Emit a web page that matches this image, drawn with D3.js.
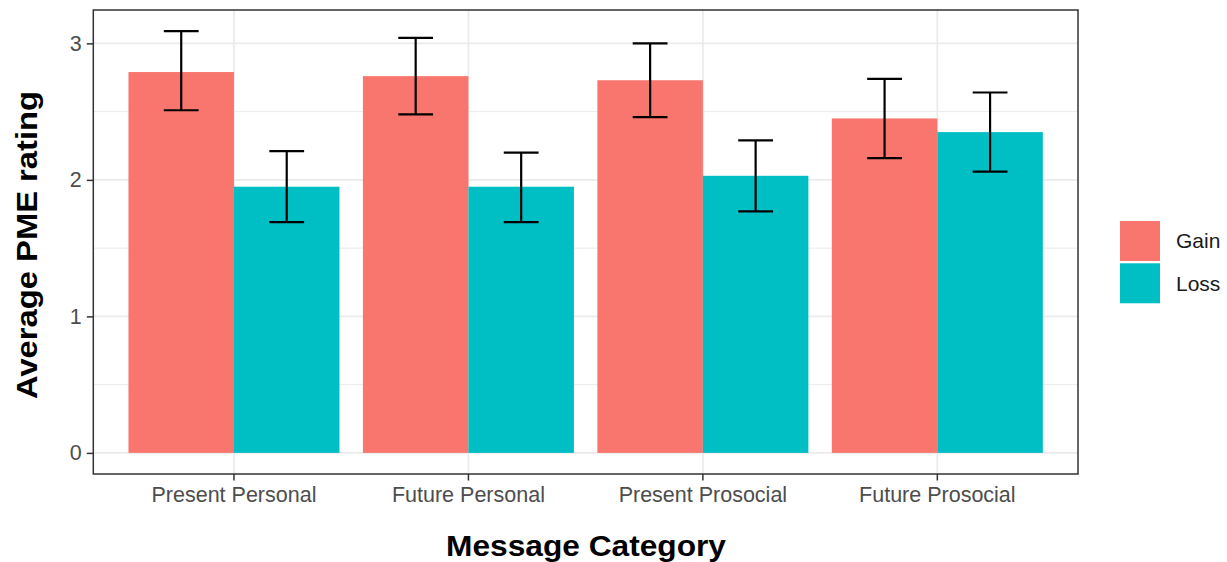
<!DOCTYPE html>
<html>
<head>
<meta charset="utf-8">
<script src="https://cdn.jsdelivr.net/npm/d3@7"></script>
<style>
  body { margin: 0; background: #fff; }
  text { font-family: "Liberation Sans", Arial, sans-serif; }
</style>
</head>
<body>
<div id="chart"></div>
<script>
// data
const categories = ["Present Personal", "Future Personal", "Present Prosocial", "Future Prosocial"];
const frames = ["Gain", "Loss"];
const gainMean = [2.79, 2.76, 2.73, 2.45];
const gainLower = [2.51, 2.48, 2.46, 2.16];
const gainUpper = [3.09, 3.04, 3.00, 2.74];
const lossMean = [1.95, 1.95, 2.03, 2.35];
const lossLower = [1.69, 1.69, 1.77, 2.06];
const lossUpper = [2.21, 2.20, 2.29, 2.64];
const yTicks = [0, 1, 2, 3];
const yMinor = [0.5, 1.5, 2.5];
const colors = ["#F8766D", "#00BFC4"];

const rows = [];
categories.forEach((c, i) => {
    rows.push({ cat: c, frame: "Gain", mean: gainMean[i], lo: gainLower[i], hi: gainUpper[i] });
    rows.push({ cat: c, frame: "Loss", mean: lossMean[i], lo: lossLower[i], hi: lossUpper[i] });
});

const width = 1227, height = 562;
const panel = { left: 93.3, right: 1078, top: 10, bottom: 474 };

const svg = d3.select("#chart")
    .append("svg")
    .attr("width", width)
    .attr("height", height);

// ggplot-like expansion of the y range
const yMax = d3.max(rows, d => d.hi);
const yScale = d3.scaleLinear()
    .domain([-0.05 * yMax, yMax * 1.05])
    .range([panel.bottom, panel.top]);

const xScale = d3.scaleBand()
    .domain(categories)
    .range([panel.left, panel.right])
    .paddingInner(0.1)
    .paddingOuter(0.15);

const xSub = d3.scaleBand()
    .domain(frames)
    .range([0, xScale.bandwidth()]);

const color = d3.scaleOrdinal().domain(frames).range(colors);

// grid
const grid = svg.append("g");
grid.selectAll(".minor")
    .data(yMinor)
    .enter().append("line")
    .attr("x1", panel.left).attr("x2", panel.right)
    .attr("y1", d => yScale(d)).attr("y2", d => yScale(d))
    .attr("stroke", "#ebebeb").attr("stroke-width", 1);
grid.selectAll(".major")
    .data(yTicks)
    .enter().append("line")
    .attr("x1", panel.left).attr("x2", panel.right)
    .attr("y1", d => yScale(d)).attr("y2", d => yScale(d))
    .attr("stroke", "#ebebeb").attr("stroke-width", 1.8);
grid.selectAll(".vmajor")
    .data(categories)
    .enter().append("line")
    .attr("x1", d => xScale(d) + xScale.bandwidth() / 2)
    .attr("x2", d => xScale(d) + xScale.bandwidth() / 2)
    .attr("y1", panel.top).attr("y2", panel.bottom)
    .attr("stroke", "#ebebeb").attr("stroke-width", 1.8);

// bars
svg.selectAll(".bar")
    .data(rows)
    .enter().append("rect")
    .attr("x", d => xScale(d.cat) + xSub(d.frame))
    .attr("y", d => yScale(d.mean))
    .attr("width", xSub.bandwidth())
    .attr("height", d => yScale(0) - yScale(d.mean))
    .attr("fill", d => color(d.frame));

// error bars
const capHalf = xSub.bandwidth() * 0.165;
const err = svg.selectAll(".err")
    .data(rows)
    .enter().append("g")
    .attr("transform", d => "translate(" + (xScale(d.cat) + xSub(d.frame) + xSub.bandwidth() / 2) + ",0)")
    .attr("stroke", "#000")
    .attr("stroke-width", 2.2);
err.append("line").attr("x1", 0).attr("x2", 0)
    .attr("y1", d => yScale(d.lo)).attr("y2", d => yScale(d.hi));
err.append("line").attr("x1", -capHalf).attr("x2", capHalf)
    .attr("y1", d => yScale(d.hi)).attr("y2", d => yScale(d.hi));
err.append("line").attr("x1", -capHalf).attr("x2", capHalf)
    .attr("y1", d => yScale(d.lo)).attr("y2", d => yScale(d.lo));

// panel border
svg.append("rect")
    .attr("x", panel.left).attr("y", panel.top)
    .attr("width", panel.right - panel.left)
    .attr("height", panel.bottom - panel.top)
    .attr("fill", "none")
    .attr("stroke", "#333333")
    .attr("stroke-width", 1.5);

// axes
const yAxis = svg.append("g")
    .attr("transform", "translate(" + panel.left + ",0)")
    .call(d3.axisLeft(yScale).tickValues(yTicks).tickSize(6.5).tickPadding(5).tickFormat(d3.format("d")));
const xAxis = svg.append("g")
    .attr("transform", "translate(0," + panel.bottom + ")")
    .call(d3.axisBottom(xScale).tickSize(6.5).tickPadding(6));

[yAxis, xAxis].forEach(ax => {
    ax.select(".domain").remove();
    ax.selectAll(".tick line").attr("stroke", "#333333").attr("stroke-width", 1.5);
    ax.selectAll(".tick text")
        .attr("fill", "#4d4d4d")
        .style("font-size", "21.5px")
        .style("font-family", "'Liberation Sans', Arial, sans-serif");
});

// axis titles
svg.append("text")
    .attr("x", 586).attr("y", 556)
    .attr("text-anchor", "middle")
    .style("font-size", "29px")
    .style("font-weight", "bold")
    .attr("textLength", 280)
    .attr("lengthAdjust", "spacingAndGlyphs")
    .text("Message Category");

svg.append("text")
    .attr("transform", "translate(37,245) rotate(-90)")
    .attr("text-anchor", "middle")
    .style("font-size", "29px")
    .style("font-weight", "bold")
    .attr("textLength", 308)
    .attr("lengthAdjust", "spacingAndGlyphs")
    .text("Average PME rating");

// legend
const legend = svg.append("g")
    .attr("transform", "translate(1120,221)");
const item = legend.selectAll(".item")
    .data(frames)
    .enter().append("g")
    .attr("transform", (d, i) => "translate(0," + (i * 42.3) + ")");
item.append("rect")
    .attr("width", 40).attr("height", 40)
    .attr("fill", d => color(d));
item.append("text")
    .attr("x", 56).attr("y", 20)
    .attr("dy", "0.35em")
    .style("font-size", "21px")
    .attr("fill", "#1a1a1a")
    .text(d => d);
</script>
</body>
</html>
